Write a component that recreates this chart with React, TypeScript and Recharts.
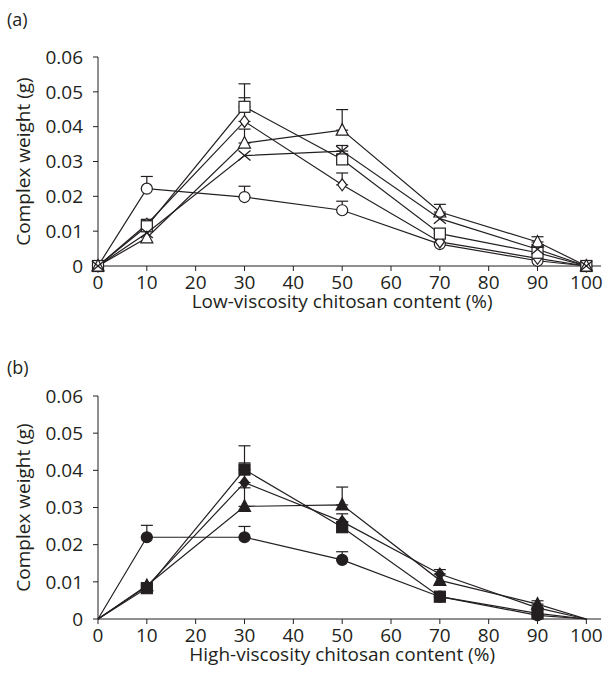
import React from 'react';
import { LineChart, Line, XAxis, YAxis, ErrorBar } from 'recharts';

// chitosan content (%) at which complexes were weighed
const content = [0, 10, 30, 50, 70, 90, 100];
const xTicks = [0, 10, 20, 30, 40, 50, 60, 70, 80, 90, 100];
const yTicks = [0, 0.01, 0.02, 0.03, 0.04, 0.05, 0.06];

// (a) low-viscosity chitosan, weights (g) and upper SD
const lowCircle = [0, 0.0222, 0.0198, 0.016, 0.0063, 0.0015, 0];
const lowCircleErr = [null, 0.0035, 0.0031, 0.0026, null, null, null];
const lowSquare = [0, 0.0114, 0.0457, 0.0306, 0.0093, 0.0038, 0];
const lowSquareErr = [null, 0.002, 0.0066, null, 0.0008, null, null];
const lowDiamond = [0, 0.012, 0.0415, 0.0233, 0.0069, 0.0022, 0];
const lowDiamondErr = [null, 0.0012, 0.0068, 0.0034, null, null, null];
const lowTriangle = [0, 0.0081, 0.0353, 0.039, 0.0155, 0.0069, 0];
const lowTriangleErr = [null, null, 0.004, 0.0059, 0.0022, 0.0015, null];
const lowCross = [0, 0.0095, 0.0317, 0.033, 0.0136, 0.0048, 0];
const lowCrossErr = [null, null, null, 0.0016, null, null, null];

// (b) high-viscosity chitosan
const highCircle = [0, 0.022, 0.022, 0.0159, 0.006, 0.001, 0];
const highCircleErr = [null, 0.0032, 0.0029, 0.0022, null, null, null];
const highSquare = [0, 0.0083, 0.0402, 0.0247, 0.006, 0.0015, 0];
const highSquareErr = [null, 0.0008, 0.0064, null, null, null, null];
const highDiamond = [0, 0.0088, 0.0367, 0.0262, 0.0121, 0.003, 0];
const highDiamondErr = [null, null, 0.0053, 0.0021, 0.0012, null, null];
const highTriangle = [0, 0.009, 0.0303, 0.0307, 0.0104, 0.004, 0];
const highTriangleErr = [null, null, 0.005, 0.0048, null, 0.0009, null];

const INK = '#231f20';
const FONT = '"Open Sans", "Noto Sans", sans-serif';
const FS = 19;

type Shape = 'circle' | 'square' | 'diamond' | 'triangle' | 'cross';

const buildRows = (series: Record<string, (number | null)[]>) =>
  content.map((c, i) => {
    const row: any = { c };
    Object.keys(series).forEach((k) => {
      const v = series[k][i];
      if (k.startsWith('e_')) row[k] = v == null ? null : [0, v];
      else row[k] = v;
    });
    return row;
  });

const lowRows = buildRows({
  circle: lowCircle, e_circle: lowCircleErr,
  square: lowSquare, e_square: lowSquareErr,
  diamond: lowDiamond, e_diamond: lowDiamondErr,
  triangle: lowTriangle, e_triangle: lowTriangleErr,
  cross: lowCross, e_cross: lowCrossErr,
});

const highRows = buildRows({
  circle: highCircle, e_circle: highCircleErr,
  square: highSquare, e_square: highSquareErr,
  diamond: highDiamond, e_diamond: highDiamondErr,
  triangle: highTriangle, e_triangle: highTriangleErr,
});

const makeDot = (shape: Shape, filled: boolean, skipEnds: boolean) => (props: any) => {
  const { cx, cy, index } = props;
  const key = `${shape}-${index}`;
  if (cx == null || cy == null) return <g key={key} />;
  if (skipEnds && (index === 0 || index === content.length - 1)) return <g key={key} />;
  const fill = filled ? INK : '#fff';
  const common = { stroke: INK, strokeWidth: 1.2, fill };
  switch (shape) {
    case 'circle':
      return <circle key={key} cx={cx} cy={cy} r={5.5} {...common} />;
    case 'square':
      return <rect key={key} x={cx - 5.5} y={cy - 5.5} width={11} height={11} {...common} />;
    case 'diamond':
      return (
        <polygon key={key} points={`${cx},${cy - 6} ${cx + 4.5},${cy} ${cx},${cy + 6} ${cx - 4.5},${cy}`} {...common} />
      );
    case 'triangle':
      return (
        <polygon key={key} points={`${cx},${cy - 6.5} ${cx + 6},${cy + 5} ${cx - 6},${cy + 5}`} {...common} />
      );
    default:
      return (
        <g key={key} stroke={INK} strokeWidth={1.3}>
          <line x1={cx - 6} y1={cy - 5} x2={cx + 6} y2={cy + 5} />
          <line x1={cx - 6} y1={cy + 5} x2={cx + 6} y2={cy - 5} />
        </g>
      );
  }
};

const yTitle = (props: any) => {
  const { viewBox, value } = props;
  const x = viewBox.x + 23;
  const y = viewBox.y + viewBox.height / 2;
  return (
    <text x={x} y={y} transform={`rotate(-90 ${x} ${y})`} textAnchor="middle" dominantBaseline="central"
      fill={INK} fontSize={FS} fontFamily={FONT}>
      {value}
    </text>
  );
};

const xTitle = (props: any) => {
  const { viewBox, value } = props;
  const x = viewBox.x + (viewBox.width * 50) / 103;
  const y = viewBox.y + 35;
  return (
    <text x={x} y={y} textAnchor="middle" dominantBaseline="central" fill={INK} fontSize={FS} fontFamily={FONT}>
      {value}
    </text>
  );
};

const tickStyle = { fill: INK, fontSize: FS, fontFamily: FONT };
const fmtY = (v: number) => (v === 0 ? '0' : v.toFixed(2));

interface PanelProps {
  rows: any[];
  shapes: Shape[];
  filled: boolean;
  height: number;
  top: number;
  plotHeight: number;
  xLabel: string;
}

const Panel: React.FC<PanelProps> = ({ rows, shapes, filled, height, top, plotHeight, xLabel }) => (
  <LineChart width={614} height={height} data={rows} margin={{ top, right: 13, left: 0, bottom: 0 }}>
    <XAxis
      dataKey="c"
      type="number"
      domain={[0, 103]}
      ticks={xTicks}
      interval={0}
      height={height - top - plotHeight}
      tick={tickStyle}
      tickSize={5}
      tickMargin={5}
      stroke={INK}
      label={{ value: xLabel, content: xTitle }}
    />
    <YAxis
      type="number"
      domain={[0, 0.06]}
      ticks={yTicks}
      interval={0}
      width={98}
      tickFormatter={fmtY}
      tick={tickStyle}
      tickSize={5}
      tickMargin={10}
      stroke={INK}
      label={{ value: 'Complex weight (g)', content: yTitle }}
    />
    {shapes.map((s) => (
      <Line
        key={s}
        type="linear"
        dataKey={s}
        stroke={INK}
        strokeWidth={1.2}
        dot={makeDot(s, filled, filled)}
        activeDot={false}
        isAnimationActive={false}
      >
        <ErrorBar dataKey={`e_${s}`} direction="y" width={6} stroke={INK} strokeWidth={1.2} />
      </Line>
    ))}
  </LineChart>
);

const panelTag: React.CSSProperties = {
  position: 'absolute',
  left: 7,
  fontSize: 18,
  fontFamily: FONT,
  color: INK,
  lineHeight: '20px',
};

export default function App() {
  return (
    <div style={{ position: 'absolute', left: 0, top: 0, width: 614, height: 679, background: '#fff' }}>
      <div style={{ ...panelTag, top: 9 }}>(a)</div>
      <div style={{ position: 'absolute', left: 0, top: 0 }}>
        <Panel
          rows={lowRows}
          shapes={['circle', 'diamond', 'square', 'triangle', 'cross']}
          filled={false}
          height={320}
          top={57}
          plotHeight={209}
          xLabel="Low-viscosity chitosan content (%)"
        />
      </div>
      <div style={{ ...panelTag, top: 357 }}>(b)</div>
      <div style={{ position: 'absolute', left: 0, top: 340 }}>
        <Panel
          rows={highRows}
          shapes={['circle', 'triangle', 'diamond', 'square']}
          filled={true}
          height={339}
          top={56}
          plotHeight={223}
          xLabel="High-viscosity chitosan content (%)"
        />
      </div>
    </div>
  );
}
